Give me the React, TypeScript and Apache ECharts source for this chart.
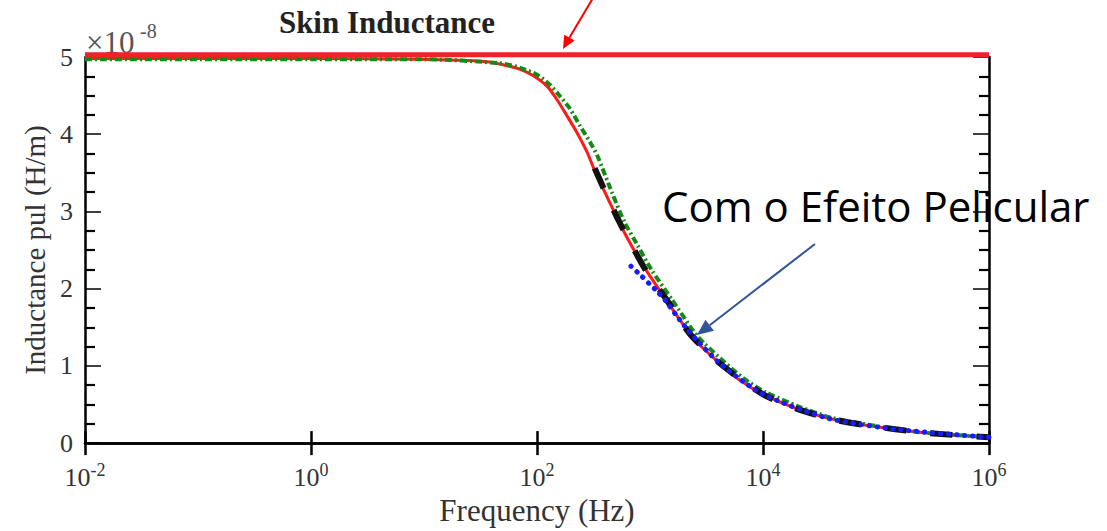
import React, { useEffect, useRef } from "react";
import * as echarts from "echarts";

// Reference line without skin effect (constant)
const flatFreq = [0.01, 1000000];
const flatVal = [5.03, 5.03];

// Red solid curve
const redFreq = [0.01, 0.1, 1, 9, 36, 50, 71, 92, 123, 150, 184, 226, 277, 326, 417, 537, 708, 933, 1412, 2239, 2754, 4169, 6166, 9772, 19500, 38000, 74000, 148000, 288000, 813000, 1000000];
const redVal = [4.98, 4.98, 4.98, 4.97, 4.94, 4.9, 4.84, 4.76, 4.62, 4.45, 4.24, 4.02, 3.77, 3.52, 3.19, 2.85, 2.52, 2.23, 1.84, 1.42, 1.27, 1.03, 0.82, 0.64, 0.45, 0.32, 0.24, 0.18, 0.13, 0.08, 0.07];

// Green dash-dot curve
const greenFreq = [0.01, 1, 10, 47, 71, 100, 130, 160, 196, 240, 294, 340, 462, 595, 785, 1035, 1560, 2450, 3020, 4550, 6700, 10500, 21000, 40000, 77000, 150000, 290000, 820000, 1000000];
const greenVal = [4.97, 4.97, 4.97, 4.92, 4.86, 4.77, 4.64, 4.49, 4.33, 4.11, 3.9, 3.73, 3.24, 2.86, 2.55, 2.24, 1.86, 1.44, 1.29, 1.05, 0.84, 0.66, 0.47, 0.33, 0.25, 0.18, 0.13, 0.085, 0.08];

// Black dashed curve
const blackFreq = [324, 417, 537, 708, 933, 1412, 2239, 4169, 9772, 19500, 38000, 74000, 148000, 288000, 1000000];
const blackVal = [3.56, 3.2, 2.86, 2.53, 2.22, 1.85, 1.42, 1.03, 0.64, 0.45, 0.32, 0.24, 0.18, 0.13, 0.075];

// Blue dotted curve
const blueFreq = [679, 832, 977, 1148, 1380, 1698, 2089, 2570, 4169, 9772, 38000, 148000, 1000000];
const blueVal = [2.29, 2.17, 2.07, 1.97, 1.84, 1.66, 1.49, 1.34, 1.03, 0.64, 0.32, 0.18, 0.075];

const titleText = "Skin Inductance";
const xName = "Frequency (Hz)";
const yName = "Inductance pul (H/m)";
const noteText = "Com o Efeito Pelicular";

const pair = (f: number[], v: number[]) => f.map((x, i) => [x, v[i]]);

export default function App() {
  const ref = useRef<HTMLDivElement>(null);
  useEffect(() => {
    const chart = echarts.init(ref.current!, null, { renderer: "svg" });
    const serif = "'Liberation Serif', 'Times New Roman', serif";
    const fmt = (v: number) => `{b|10}{s|${Math.round(Math.log10(v))}}`;
    const axisLine = { show: true, lineStyle: { color: "#000", width: 2.5 } };
    const xCommon: any = {
      type: "log",
      logBase: 100,
      min: 0.01,
      max: 1000000,
      axisLine,
      axisTick: { show: true, inside: true, length: 12, lineStyle: { color: "#000", width: 2.5 } },
      splitLine: { show: false },
      minorTick: { show: false },
    };
    const yCommon: any = {
      type: "value",
      min: 0,
      max: 5,
      interval: 1,
      axisLine,
      axisTick: { show: true, inside: true, length: 16, lineStyle: { color: "#000", width: 1.5 } },
      minorTick: { show: true, splitNumber: 4, length: 10, lineStyle: { color: "#000", width: 2.2 } },
      splitLine: { show: false },
      minorSplitLine: { show: false },
    };
    const curve = { type: "line", showSymbol: false, smooth: 0.25 };
    chart.setOption({
      animation: false,
      backgroundColor: "#fff",
      grid: { left: 85, right: 118, top: 57, bottom: 84, containLabel: false },
      xAxis: [
        {
          ...xCommon,
          position: "bottom",
          name: xName,
          nameLocation: "middle",
          nameGap: 51,
          nameTextStyle: { fontFamily: serif, fontSize: 31, color: "#333" },
          axisLabel: {
            margin: 18,
            formatter: fmt,
            rich: {
              b: { fontFamily: serif, fontSize: 26, color: "#333", lineHeight: 32 },
              s: { fontFamily: serif, fontSize: 18, color: "#333", lineHeight: 16, verticalAlign: "top" },
            },
          },
        },
        { ...xCommon, position: "top", axisLabel: { show: false } },
      ],
      yAxis: [
        {
          ...yCommon,
          position: "left",
          name: yName,
          nameLocation: "middle",
          nameRotate: 90,
          nameGap: 34,
          nameTextStyle: { fontFamily: serif, fontSize: 29, color: "#333" },
          axisLabel: { margin: 12, fontFamily: serif, fontSize: 26, color: "#333" },
        },
        { ...yCommon, position: "right", axisLabel: { show: false } },
      ],
      series: [
        {
          type: "line",
          data: pair(flatFreq, flatVal),
          showSymbol: false,
          clip: false,
          lineStyle: { color: "#ee2229", width: 5 },
          z: 5,
        },
        { ...curve, data: pair(redFreq, redVal), lineStyle: { color: "#ff1a1a", width: 3 }, z: 2 },
        { ...curve, data: pair(greenFreq, greenVal), lineStyle: { color: "#138a13", width: 4, type: [7, 3, 2, 3] }, z: 3 },
        { ...curve, data: pair(blackFreq, blackVal), lineStyle: { color: "#111", width: 6, type: [22, 24] }, z: 4 },
        {
          ...curve,
          data: pair(blueFreq, blueVal),
          lineStyle: { color: "#1a1aff", width: 5, type: [0.5, 7.5], cap: "round" },
          z: 4,
        },
      ],
      graphic: [
        {
          type: "text",
          x: 387,
          y: 22,
          style: { text: titleText, font: `bold 31px ${serif}`, fill: "#222", align: "center", verticalAlign: "middle" },
        },
        {
          type: "text",
          x: 86,
          y: 42,
          style: { text: "\u00d710", font: `31px ${serif}`, fill: "#555", align: "left", verticalAlign: "middle" },
        },
        {
          type: "text",
          x: 140,
          y: 31,
          style: { text: "-8", font: `20px ${serif}`, fill: "#555", align: "left", verticalAlign: "middle" },
        },
        {
          type: "text",
          x: 662,
          y: 205,
          style: { text: noteText, font: `42px 'Open Sans', sans-serif`, fill: "#000", align: "left", verticalAlign: "middle" },
          z: 10,
        },
        {
          type: "line",
          shape: { x1: 815, y1: 244, x2: 709.7, y2: 325.2 },
          style: { stroke: "#2F5597", lineWidth: 2 },
          z: 10,
        },
        {
          type: "polygon",
          shape: { points: [[697, 335], [714, 330.7], [705.4, 319.7]] },
          style: { fill: "#2F5597" },
          z: 10,
        },
        {
          type: "line",
          shape: { x1: 593, y1: -2, x2: 569.4, y2: 37.7 },
          style: { stroke: "#ff0000", lineWidth: 2 },
          z: 10,
        },
        {
          type: "polygon",
          shape: { points: [[563, 49], [574.6, 40.6], [564.2, 34.8]] },
          style: { fill: "#ff0000" },
          z: 10,
        },
      ],
    });
    return () => chart.dispose();
  }, []);
  return <div ref={ref} style={{ position: "fixed", left: 0, top: 0, width: 1107, height: 531 }} />;
}
